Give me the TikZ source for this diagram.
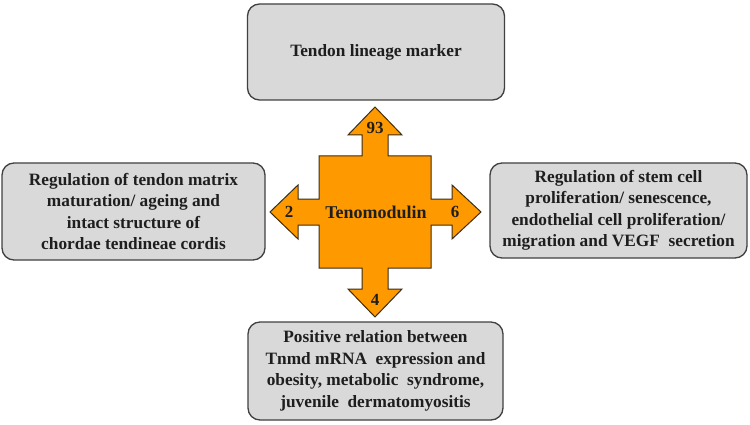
\documentclass[tikz,border=0pt]{standalone}
\usepackage{fontspec}
\setmainfont{Liberation Serif}
\definecolor{boxfill}{RGB}{217,217,217}
\definecolor{boxline}{RGB}{64,64,64}
\definecolor{crossfill}{RGB}{255,153,0}
\definecolor{crossline}{RGB}{60,45,20}
\definecolor{txt}{RGB}{30,30,30}
\tikzset{
  infobox/.style={draw=boxline, fill=boxfill, line width=1.3pt, rounded corners=12pt, align=center, inner sep=0pt, text=txt, font=\bfseries\fontsize{17.3}{21.5}\selectfont},
  numlabel/.style={font=\bfseries\fontsize{17}{18}\selectfont, inner sep=0pt, text=txt}
}
\begin{document}
\begin{tikzpicture}[x=1pt,y=-1pt]
\useasboundingbox (0,0) rectangle (750,425);
% boxes
\node[infobox, minimum width=257pt, minimum height=96pt] (top) at (376,52) {Tendon lineage marker};
\node[infobox, minimum width=263pt, minimum height=97pt] (left) at (133.5,211.5) {Regulation of tendon matrix\\maturation/ ageing and\\intact structure of\\chordae tendineae cordis};
\node[infobox, minimum width=257pt, minimum height=95pt] (right) at (618.5,210.5) {Regulation of stem cell\\proliferation/ senescence,\\endothelial cell proliferation/\\migration and VEGF\ \ secretion};
\node[infobox, minimum width=255pt, minimum height=98pt] (bottom) at (375.5,371) {Positive relation between\\Tnmd mRNA\ \ expression and\\obesity, metabolic\ \ syndrome,\\juvenile\ \ dermatomyositis};
% cross with four arrows
\draw[fill=crossfill, draw=crossline, line width=1pt, line join=miter]
 (375,107) -- (402,135) -- (388,135) -- (388,156) -- (431,156) -- (431,199) -- (452,199) -- (452,185) -- (481,212) -- (452,239) -- (452,225) -- (431,225) -- (431,268) -- (388,268) -- (388,289) -- (402,289) -- (375,317) -- (348,289) -- (362,289) -- (362,268) -- (319,268) -- (319,225) -- (298,225) -- (298,239) -- (270,212) -- (298,185) -- (298,199) -- (319,199) -- (319,156) -- (362,156) -- (362,135) -- (348,135) -- cycle;
\node[font=\bfseries\fontsize{18}{20}\selectfont, inner sep=0pt, text=txt] (center) at (376,212) {Tenomodulin};
\node[numlabel] (n93) at (375,128) {93};
\node[numlabel] (n2) at (289,212) {2};
\node[numlabel] (n6) at (455,212) {6};
\node[numlabel] (n4) at (375,300) {4};
\end{tikzpicture}
\end{document}
